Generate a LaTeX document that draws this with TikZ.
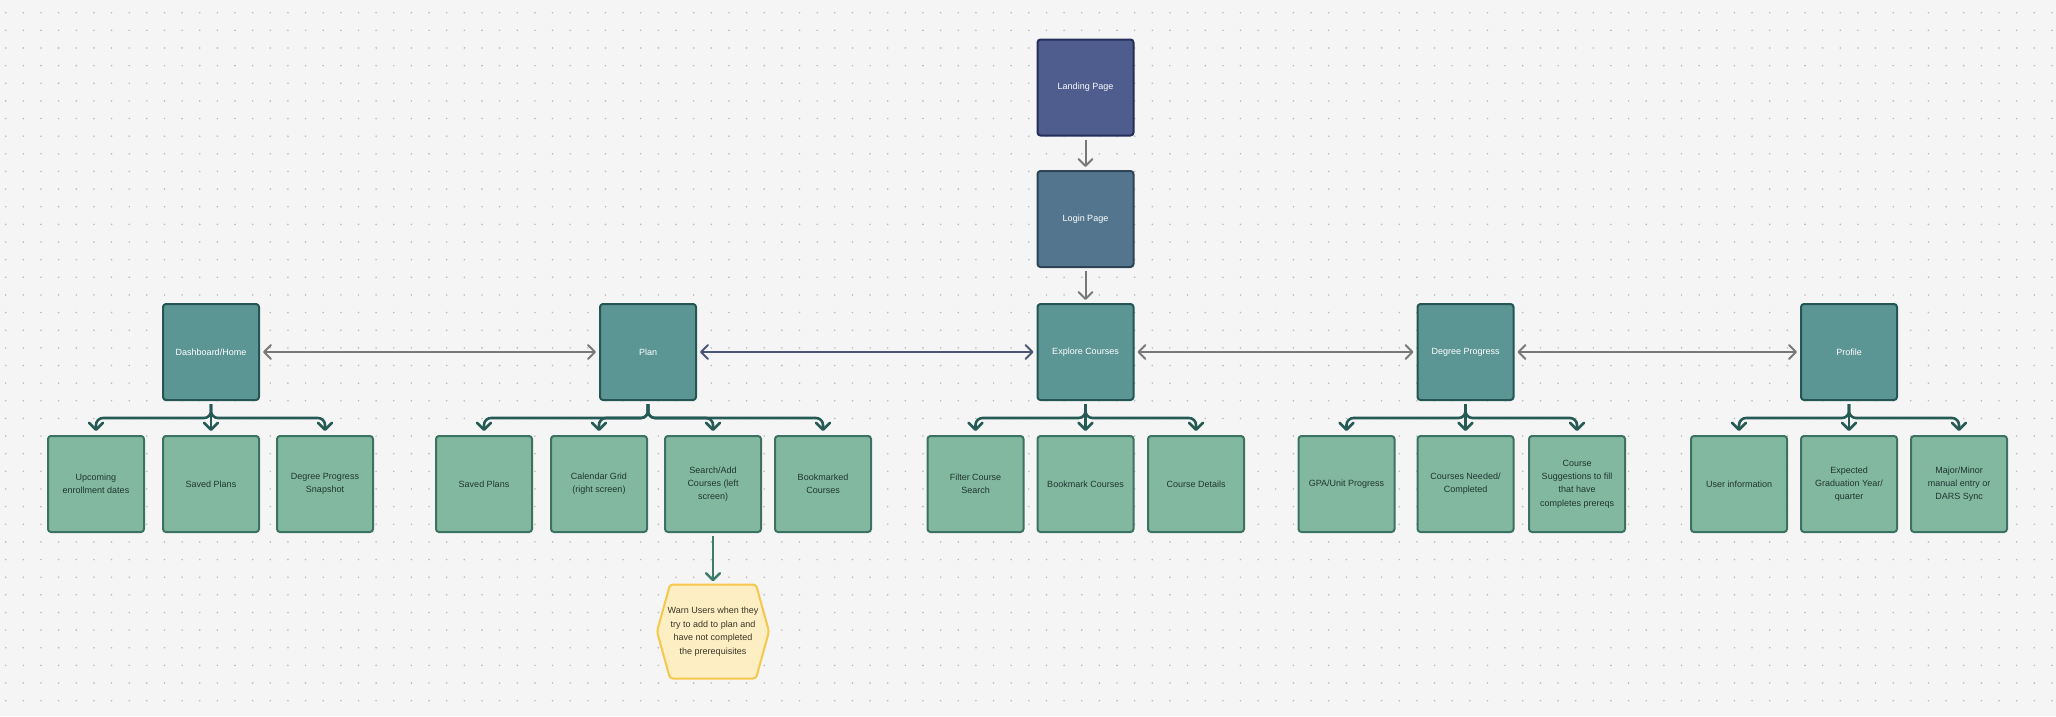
\documentclass[tikz,border=0pt]{standalone}
\usepackage{fontspec}
\setmainfont{Liberation Sans}
\usetikzlibrary{arrows.meta}
\definecolor{bgcol}{HTML}{F5F5F5}
\definecolor{dotcol}{HTML}{BBBBBB}
\definecolor{landfill}{HTML}{4E5C8E}
\definecolor{landborder}{HTML}{252E5A}
\definecolor{loginfill}{HTML}{53768E}
\definecolor{loginborder}{HTML}{2D4456}
\definecolor{mainfill}{HTML}{5B9594}
\definecolor{mainborder}{HTML}{245653}
\definecolor{childfill}{HTML}{83B8A0}
\definecolor{childborder}{HTML}{3C7262}
\definecolor{childtext}{HTML}{1F3530}
\definecolor{treecol}{HTML}{255A55}
\definecolor{hexarrow}{HTML}{3F7B69}
\definecolor{arrowgray}{HTML}{787878}
\definecolor{slatecol}{HTML}{4B5677}
\definecolor{hexfill}{HTML}{FDEFC3}
\definecolor{hexborder}{HTML}{F5C84C}
\definecolor{hextext}{HTML}{3A3325}
\newcommand\branchto[2]{\draw[treeline] ([yshift=-3pt]#1.south) -- ([yshift=-17pt]#1.south) -| ([yshift=4pt]#2.north);}
\newcommand\straightto[2]{\draw[treeline] ([yshift=-3pt]#1.south) -- ([yshift=4pt]#2.north);}
\begin{document}
\begin{tikzpicture}[x=1pt,y=-1pt,
  >={Straight Barb[length=7pt,width=14pt,round]},
  box/.style={rectangle, rounded corners=3pt, line width=2pt, minimum width=96pt, minimum height=96pt, inner sep=2pt, align=center, font=\fontsize{9}{13.3}\selectfont},
  mainbox/.style={box, fill=mainfill, draw=mainborder, text=white},
  childbox/.style={box, fill=childfill, draw=childborder, text=childtext},
  graylink/.style={draw=arrowgray, line width=2pt},
  treeline/.style={draw=treecol, line width=2.6pt, ->, rounded corners=7pt}]
\useasboundingbox (0,0) rectangle (2056,716);
\fill[bgcol] (0,0) rectangle (2056,716);
\foreach \i in {0,...,116}{
  \foreach \j in {0,...,39}{
    \fill[dotcol] ({5.7+17.64*\i},{12.7+17.64*\j}) circle (0.9pt);
  }
}
% top
\node[box, fill=landfill, draw=landborder, text=white] (land) at (1085.5,87.5) {Landing Page};
\node[box, fill=loginfill, draw=loginborder, text=white] (login) at (1085.5,219) {Login Page};
% main
\node[mainbox] (dash) at (211,352) {Dashboard/Home};
\node[mainbox] (plan) at (648,352) {Plan};
\node[mainbox] (expl) at (1085.5,352) {Explore Courses};
\node[mainbox] (degr) at (1465.5,352) {Degree Progress};
\node[mainbox] (prof) at (1849,352) {Profile};
% children
\node[childbox] (d1) at (96,484) {Upcoming\\enrollment dates};
\node[childbox] (d2) at (211,484) {Saved Plans};
\node[childbox] (d3) at (325,484) {Degree Progress\\Snapshot};
\node[childbox] (p1) at (484,484) {Saved Plans};
\node[childbox] (p2) at (599,484) {Calendar Grid\\(right screen)};
\node[childbox] (p3) at (713,484) {Search/Add\\Courses (left\\screen)};
\node[childbox] (p4) at (823,484) {Bookmarked\\Courses};
\node[childbox] (e1) at (975.5,484) {Filter Course\\Search};
\node[childbox] (e2) at (1085.5,484) {Bookmark Courses};
\node[childbox] (e3) at (1196,484) {Course Details};
\node[childbox] (g1) at (1346.5,484) {GPA/Unit Progress};
\node[childbox] (g2) at (1465.5,484) {Courses Needed/\\Completed};
\node[childbox] (g3) at (1577,484) {Course\\Suggestions to fill\\that have\\completes prereqs};
\node[childbox] (r1) at (1739,484) {User information};
\node[childbox] (r2) at (1849,484) {Expected\\Graduation Year/\\quarter};
\node[childbox] (r3) at (1959,484) {Major/Minor\\manual entry or\\DARS Sync};
% hexagon
\filldraw[fill=hexfill, draw=hexborder, line width=2pt, rounded corners=3pt]
  (657,631.5) -- (670,584.5) -- (756,584.5) -- (769,631.5) -- (756,678.5) -- (670,678.5) -- cycle;
\node[align=center, text=hextext, font=\fontsize{9}{13.6}\selectfont, minimum width=112pt, minimum height=94pt, inner sep=0pt] (hex) at (713,631.5)
  {Warn Users when they\\try to add to plan and\\have not completed\\the prerequisites};
% vertical gray arrows
\draw[graylink,->] ([yshift=-3pt]land.south) -- ([yshift=3pt]login.north);
\draw[graylink,->] ([yshift=-3pt]login.south) -- ([yshift=3pt]expl.north);
% horizontal links
\draw[graylink,<->] ([xshift=3pt]dash.east) -- ([xshift=-3pt]plan.west);
\draw[graylink,draw=slatecol,<->] ([xshift=3pt]plan.east) -- ([xshift=-3pt]expl.west);
\draw[graylink,<->] ([xshift=3pt]expl.east) -- ([xshift=-3pt]degr.west);
\draw[graylink,<->] ([xshift=3pt]degr.east) -- ([xshift=-3pt]prof.west);
% tree connectors
\branchto{dash}{d1}
\straightto{dash}{d2}
\branchto{dash}{d3}
\branchto{plan}{p1}
\branchto{plan}{p2}
\branchto{plan}{p3}
\branchto{plan}{p4}
\branchto{expl}{e1}
\straightto{expl}{e2}
\branchto{expl}{e3}
\branchto{degr}{g1}
\straightto{degr}{g2}
\branchto{degr}{g3}
\branchto{prof}{r1}
\straightto{prof}{r2}
\branchto{prof}{r3}
% warning arrow
\draw[draw=hexarrow, line width=2.4pt, ->] ([yshift=-3pt]p3.south) -- ([yshift=3pt]hex.north);
\end{tikzpicture}
\end{document}
